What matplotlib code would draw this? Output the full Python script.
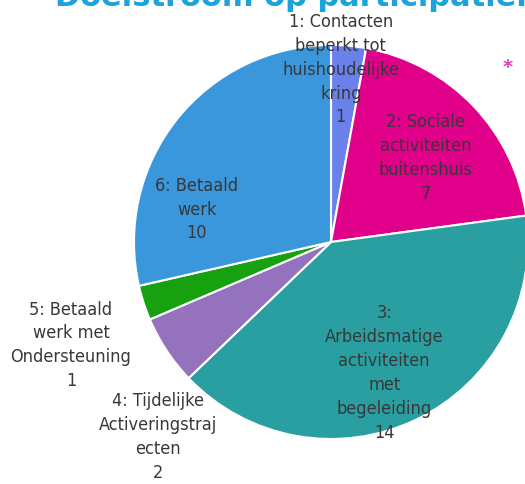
import matplotlib
matplotlib.use("Agg")
import matplotlib.pyplot as plt

# Doelstroom per trede van de participatieladder
labels = ["1: Contacten\nbeperkt tot\nhuishoudelijke\nkring",
          "2: Sociale\nactiviteiten\nbuitenshuis",
          "3:\nArbeidsmatige\nactiviteiten\nmet\nbegeleiding",
          "4: Tijdelijke\nActiveringstraj\necten",
          "5: Betaald\nwerk met\nOndersteuning",
          "6: Betaald\nwerk"]
values = [1, 7, 14, 2, 1, 10]
colors = ["#6A80EA", "#E0008A", "#2A9FA2", "#9472BE", "#17A00F", "#3A97DC"]

# label centres in axes data units (pie radius = 1)
label_pos = [(0.05, 0.88), (0.48, 0.43), (0.27, -0.66),
             (-0.88, -0.985), (-1.32, -0.52), (-0.68, 0.17)]

fig = plt.figure(figsize=(5.25, 4.85), dpi=100)
ax = fig.add_axes([134 / 525, 45 / 485, 394 / 525, 394 / 485])

ax.pie(values, colors=colors, startangle=90, counterclock=False,
       wedgeprops=dict(edgecolor="white", linewidth=1.5))
ax.set_xlim(-1, 1)
ax.set_ylim(-1, 1)
ax.set_aspect("equal")
ax.axis("off")

for lab, val, (x, y) in zip(labels, values, label_pos):
    ax.text(x, y, f"{lab}\n{val}", ha="center", va="center",
            fontsize=13, color="#383838", family="DejaVu Sans",
            fontstretch="condensed", linespacing=1.42, clip_on=False)

# title is cut off at the top edge, as in the original slide
fig.text(55 / 525, 1 - 6 / 485, "Doelstroom op participatieniveau",
         ha="left", va="baseline", fontsize=22, fontweight="bold",
         color="#1AA3DC")
fig.text(508 / 525, 1 - 68 / 485, "*", ha="center", va="center",
         fontsize=14, fontweight="bold", color="#E040C0")

fig.savefig("out.png", dpi=100)
